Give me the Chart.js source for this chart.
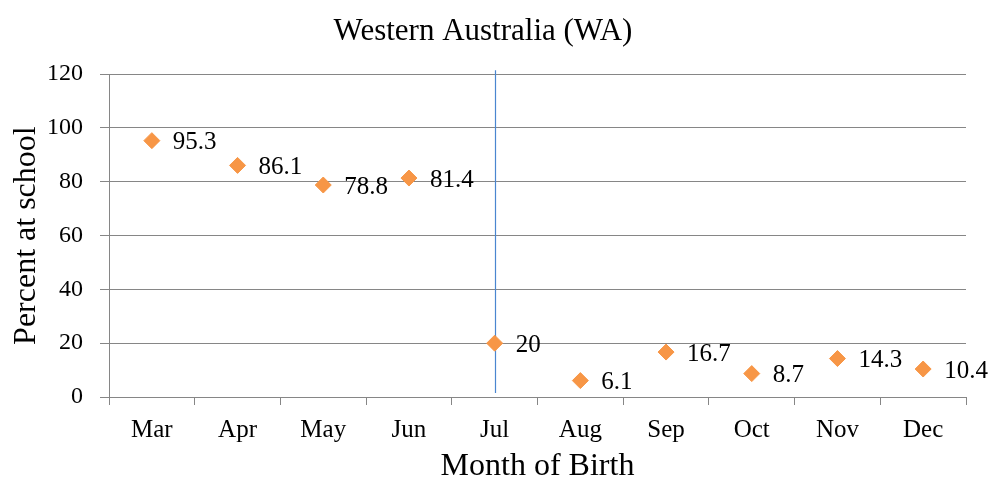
<!DOCTYPE html>
<html>
<head>
<meta charset="utf-8">
<script src="https://cdn.jsdelivr.net/npm/chart.js@4.4.1/dist/chart.umd.min.js"></script>
<style>
  html, body { margin: 0; padding: 0; background: #fff; }
  #wrap { width: 988px; height: 484px; }
</style>
</head>
<body>
<div id="wrap"><canvas id="waChart"></canvas></div>
<script>
// data
const months = ['Mar', 'Apr', 'May', 'Jun', 'Jul', 'Aug', 'Sep', 'Oct', 'Nov', 'Dec'];
const percentAtSchool = [95.3, 86.1, 78.8, 81.4, 20, 6.1, 16.7, 8.7, 14.3, 10.4];
const yTicks = [0, 20, 40, 60, 80, 100, 120];
const cutoffMonth = 'Jul';
const cutoffRange = [1.5, 121.5];

const serif = '"Liberation Serif", "Times New Roman", serif';

// labels to the right of each point
const valueLabels = {
  id: 'valueLabels',
  afterDatasetsDraw(chart) {
    const ctx = chart.ctx;
    const meta = chart.getDatasetMeta(0);
    ctx.save();
    ctx.font = '25px ' + serif;
    ctx.fillStyle = '#000';
    ctx.textBaseline = 'middle';
    meta.data.forEach((pt, i) => {
      ctx.fillText(String(percentAtSchool[i]), pt.x + 21, pt.y + 2);
    });
    ctx.restore();
  }
};

// vertical cut-off line at July
const cutoffLine = {
  id: 'cutoffLine',
  beforeDatasetsDraw(chart) {
    const x = chart.scales.x.getPixelForValue(months.indexOf(cutoffMonth));
    const y1 = chart.scales.y.getPixelForValue(cutoffRange[1]);
    const y2 = chart.scales.y.getPixelForValue(cutoffRange[0]);
    const ctx = chart.ctx;
    ctx.save();
    ctx.strokeStyle = '#4a86d0';
    ctx.lineWidth = 1.2;
    ctx.beginPath();
    ctx.moveTo(Math.round(x) + 0.5, y1);
    ctx.lineTo(Math.round(x) + 0.5, y2);
    ctx.stroke();
    ctx.restore();
  }
};

const ctxWA = document.getElementById('waChart').getContext('2d');
const waChart = new Chart(ctxWA, {
  type: 'line',
  data: {
    labels: months,
    datasets: [{
      label: 'Percent at school',
      data: percentAtSchool,
      showLine: false,
      pointStyle: 'rectRot',
      pointRadius: 8,
      pointBackgroundColor: '#f79646',
      pointBorderColor: '#f79646',
      pointBorderWidth: 1
    }]
  },
  options: {
    responsive: true,
    maintainAspectRatio: false,
    animation: false,
    layout: { padding: { left: 0, right: 22, top: 0, bottom: 0 } },
    plugins: {
      legend: { display: false },
      tooltip: { enabled: false },
      title: {
        display: true,
        text: 'Western Australia (WA)',
        color: '#000',
        font: { family: serif, size: 31, weight: 'normal' },
        padding: { top: 13, bottom: 24 }
      }
    },
    scales: {
      x: {
        offset: true,
        afterFit(scale) { scale.height = 87; },
        grid: {
          offset: true,
          drawOnChartArea: false,
          drawTicks: true,
          tickLength: 8,
          color: '#868686'
        },
        border: { display: true, color: '#868686', width: 1 },
        ticks: {
          color: '#000',
          font: { family: serif, size: 25 },
          padding: 10,
          maxRotation: 0
        },
        title: {
          display: true,
          text: 'Month of Birth',
          color: '#000',
          font: { family: serif, size: 32, lineHeight: 1.1 },
          padding: { top: 0, bottom: 0 }
        }
      },
      y: {
        min: 0,
        max: 120,
        afterFit(scale) { scale.width = 109; },
        afterBuildTicks(axis) {
          axis.ticks = yTicks.map(v => ({ value: v }));
        },
        grid: {
          color: '#868686',
          drawTicks: true,
          tickLength: 9
        },
        border: { display: true, color: '#868686', width: 1 },
        ticks: {
          color: '#000',
          font: { family: serif, size: 24 },
          padding: 17
        },
        title: {
          display: true,
          text: 'Percent at school',
          color: '#000',
          font: { family: serif, size: 32 },
          padding: { top: 7, bottom: 0 }
        }
      }
    }
  },
  plugins: [cutoffLine, valueLabels]
});
</script>
</body>
</html>
